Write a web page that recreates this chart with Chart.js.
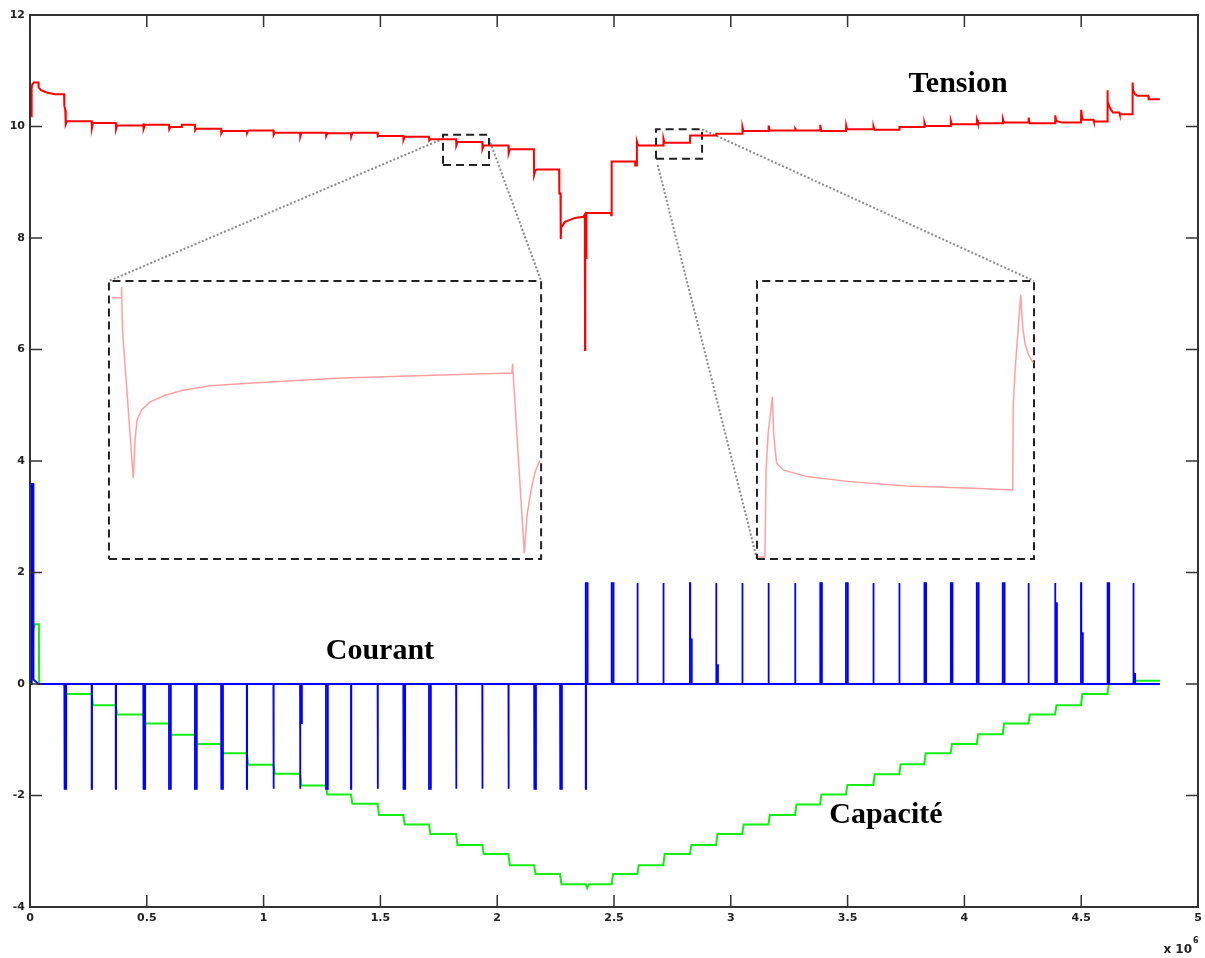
<!DOCTYPE html>
<html>
<head>
<meta charset="utf-8">
<title>Tension / Courant / Capacité</title>
<script src="https://cdn.jsdelivr.net/npm/chart.js@4.4.1/dist/chart.umd.min.js"></script>
<style>
  html, body { margin: 0; padding: 0; background: #ffffff; }
  canvas { display: block; }
</style>
</head>
<body>
<canvas id="chart" width="1205" height="958"></canvas>
<script>
// temps en unités de 10^6 s
const xTickVals = [0, 0.5, 1, 1.5, 2, 2.5, 3, 3.5, 4, 4.5, 5];
const xTickLabels = ['0', '0.5', '1', '1.5', '2', '2.5', '3', '3.5', '4', '4.5', '5'];
const yTickVals = [-4, -2, 0, 2, 4, 6, 8, 10, 12];
const yTickLabels = ['-4', '-2', '0', '2', '4', '6', '8', '10', '12'];

// Tension (V) : points [t, v]
const tensionPts = [
  [0.006, 10.18], [0.007, 10.69], [0.010, 10.76], [0.017, 10.79], [0.036, 10.79], [0.037, 10.70],
  [0.047, 10.65], [0.071, 10.61], [0.107, 10.58], [0.146, 10.58], [0.147, 10.37], [0.151, 10.30],
  [0.153, 10.04], [0.158, 10.095],
  [0.264, 10.095], [0.265, 9.97], [0.270, 10.065],
  [0.367, 10.065], [0.368, 9.95], [0.373, 10.02],
  [0.485, 10.02], [0.486, 10.06], [0.487, 9.96], [0.492, 10.03],
  [0.595, 10.03], [0.596, 9.95], [0.601, 9.99], [0.648, 9.99], [0.650, 10.03],
  [0.706, 10.03], [0.707, 9.93], [0.712, 9.96],
  [0.818, 9.96], [0.819, 9.88], [0.824, 9.92],
  [0.928, 9.92], [0.929, 9.88], [0.934, 9.93],
  [1.042, 9.93], [1.043, 9.85], [1.048, 9.89],
  [1.156, 9.89], [1.157, 9.82], [1.162, 9.89],
  [1.267, 9.89], [1.268, 9.83], [1.273, 9.88],
  [1.374, 9.88], [1.375, 9.82], [1.380, 9.89],
  [1.488, 9.89], [1.489, 9.82], [1.494, 9.83],
  [1.598, 9.83], [1.599, 9.76], [1.604, 9.815],
  [1.708, 9.815], [1.709, 9.75], [1.714, 9.77],
  [1.824, 9.77], [1.825, 9.66], [1.830, 9.72],
  [1.936, 9.72], [1.937, 9.60], [1.942, 9.66],
  [2.048, 9.66], [2.049, 9.52], [2.054, 9.59],
  [2.157, 9.59], [2.158, 9.13], [2.163, 9.21], [2.170, 9.23],
  [2.265, 9.23], [2.266, 8.80], [2.271, 8.80], [2.272, 7.98], [2.274, 8.19], [2.290, 8.29],
  [2.333, 8.36], [2.369, 8.38], [2.375, 8.42],
  [2.376, 5.99], [2.377, 7.64], [2.381, 7.64], [2.382, 8.45],
  [2.486, 8.45], [2.488, 8.41], [2.490, 9.37],
  [2.590, 9.37], [2.591, 9.30], [2.597, 9.30], [2.598, 9.73], [2.603, 9.66],
  [2.711, 9.66], [2.712, 9.78], [2.716, 9.71],
  [2.825, 9.71], [2.826, 9.84],
  [2.937, 9.84], [2.938, 9.87],
  [3.049, 9.87], [3.050, 9.99], [3.054, 9.92],
  [3.161, 9.92], [3.162, 10.02], [3.166, 9.93],
  [3.275, 9.93], [3.276, 9.96], [3.280, 9.93],
  [3.382, 9.93], [3.383, 10.03], [3.387, 9.92],
  [3.493, 9.92], [3.494, 10.02], [3.498, 9.95],
  [3.610, 9.95], [3.611, 10.00], [3.615, 9.94],
  [3.721, 9.94], [3.722, 9.99],
  [3.828, 9.99], [3.829, 10.07], [3.833, 10.01],
  [3.941, 10.01], [3.942, 10.10], [3.946, 10.04],
  [4.053, 10.04], [4.054, 10.12], [4.058, 10.06],
  [4.164, 10.06], [4.165, 10.13], [4.169, 10.07],
  [4.274, 10.07], [4.275, 10.16], [4.279, 10.06],
  [4.388, 10.06], [4.389, 10.20], [4.393, 10.10], [4.420, 10.07],
  [4.499, 10.07], [4.500, 10.30], [4.504, 10.16], [4.508, 10.12], [4.552, 10.12], [4.554, 10.09],
  [4.611, 10.09], [4.612, 10.65], [4.614, 10.45], [4.623, 10.33], [4.636, 10.25], [4.663, 10.25], [4.665, 10.22],
  [4.719, 10.22], [4.720, 10.79], [4.722, 10.65], [4.730, 10.58], [4.740, 10.55], [4.787, 10.55],
  [4.789, 10.49], [4.837, 10.49]
];

// Courant (A)
const courantStart = [[0, 0], [0.006, 0], [0.007, 3.59], [0.014, 3.59], [0.015, 0.08], [0.036, 0]];
const courantEnd = 4.837;
const dischargeAmp = -1.88;
const dischargeT = [0.147, 0.264, 0.367, 0.485, 0.595, 0.706, 0.818, 0.928, 1.042, 1.156, 1.267,
  1.374, 1.488, 1.598, 1.708, 1.824, 1.936, 2.048, 2.158, 2.269, 2.379];
const dischargeTail = [-1.88, 0, 0, -1.88, -1.88, -1.88, -1.88, 0, 0, -0.70, -1.88,
  0, 0, -1.88, -1.88, 0, 0, 0, -1.88, -1.88, 0];
const chargeAmp = 1.81;
const chargeT = [2.379, 2.490, 2.600, 2.711, 2.825, 2.937, 3.049, 3.161, 3.275, 3.382, 3.493,
  3.610, 3.721, 3.828, 3.941, 4.053, 4.164, 4.274, 4.388, 4.499, 4.612, 4.723];
const chargeTail = [1.81, 1.81, 0, 0, 0.80, 0.34, 0, 0, 0, 1.81, 1.81,
  0, 0, 1.81, 1.81, 1.81, 1.81, 0, 1.45, 0.91, 1.81, 0.18];

// Capacité (Ah)
const capStart = [[0.006, 0], [0.007, 0.40], [0.008, 0.87], [0.021, 1.07], [0.038, 1.07], [0.039, 0]];
const capT = [0.147, 0.264, 0.367, 0.485, 0.595, 0.706, 0.818, 0.928, 1.042, 1.156, 1.267,
  1.374, 1.488, 1.598, 1.708, 1.824, 1.936, 2.048, 2.158, 2.269, 2.379, 2.386,
  2.490, 2.600, 2.711, 2.825, 2.937, 3.049, 3.161, 3.275, 3.382, 3.493,
  3.610, 3.721, 3.828, 3.941, 4.053, 4.164, 4.274, 4.388, 4.499, 4.612, 4.723];
const capLevel = [-0.18, -0.38, -0.545, -0.71, -0.91, -1.076, -1.24, -1.45, -1.61, -1.82, -1.98,
  -2.15, -2.35, -2.52, -2.69, -2.89, -3.05, -3.25, -3.41, -3.59, -3.66, -3.59,
  -3.41, -3.25, -3.05, -2.89, -2.69, -2.52, -2.35, -2.16, -1.98, -1.81,
  -1.62, -1.44, -1.24, -1.076, -0.90, -0.71, -0.545, -0.38, -0.18, 0.0, 0.06];
const capEnd = 4.837;

// zooms (même repère que le graphe principal)
const zoomLeftPts = [
  [0.350, 6.93], [0.392, 6.93], [0.392, 7.12], [0.396, 6.35], [0.442, 3.69], [0.450, 4.38],
  [0.458, 4.74], [0.479, 4.92], [0.514, 5.06], [0.578, 5.18], [0.655, 5.27], [0.771, 5.35],
  [0.920, 5.39], [1.156, 5.45], [1.340, 5.49], [1.725, 5.54], [2.063, 5.58], [2.066, 5.75],
  [2.068, 5.58], [2.116, 2.34], [2.128, 3.03], [2.145, 3.48], [2.162, 3.80], [2.183, 4.02]
];
const zoomRightPts = [
  [3.118, 2.28], [3.146, 2.28], [3.151, 3.84], [3.160, 4.50], [3.178, 5.15], [3.184, 4.45],
  [3.196, 3.96], [3.225, 3.84], [3.325, 3.72], [3.510, 3.63], [3.753, 3.55], [4.038, 3.51],
  [4.207, 3.48], [4.209, 5.00], [4.217, 5.63], [4.241, 6.98], [4.250, 6.40], [4.259, 6.11],
  [4.275, 5.90], [4.295, 5.76]
];
// cadres [xmin, xmax, ymin, ymax]
const boxLeftBig = [0.338, 2.188, 2.24, 7.23];
const boxRightBig = [3.112, 4.298, 2.24, 7.23];
const boxLeftSmall = [1.768, 1.965, 9.31, 9.85];
const boxRightSmall = [2.680, 2.877, 9.42, 9.95];
// lignes de renvoi [[x1, y1], [x2, y2]]
const connectors = [
  [[1.768, 9.78], [0.338, 7.23]],
  [[1.965, 9.78], [2.188, 7.23]],
  [[2.877, 9.95], [4.298, 7.23]],
  [[2.687, 9.31], [3.112, 2.24]]
];

const labelText = ['Tension', 'Courant', 'Capacité'];
const labelX = [3.973, 1.498, 3.664];
const labelY = [10.62, 0.448, -2.49];

function toXY(pts) {
  return pts.map(p => ({ x: p[0], y: p[1] }));
}

function buildCourant() {
  const out = toXY(courantStart);
  const pulses = [];
  dischargeT.forEach((t, i) => pulses.push({ t: t, a: dischargeAmp, tail: dischargeTail[i] }));
  chargeT.forEach((t, i) => pulses.push({ t: t, a: chargeAmp, tail: chargeTail[i] }));
  pulses.forEach(p => {
    out.push({ x: p.t, y: 0 });
    out.push({ x: p.t, y: p.a });
    out.push({ x: p.t + 0.0015, y: p.a });
    out.push({ x: p.t + 0.0015, y: p.tail });
    out.push({ x: p.t + 0.008, y: p.tail });
    out.push({ x: p.t + 0.008, y: 0 });
  });
  out.push({ x: courantEnd, y: 0 });
  return out;
}

function buildCapacite() {
  const out = toXY(capStart);
  let prev = 0;
  capT.forEach((t, i) => {
    out.push({ x: t, y: prev });
    out.push({ x: t + 0.006, y: capLevel[i] });
    prev = capLevel[i];
  });
  out.push({ x: capEnd, y: prev });
  return out;
}

function boxPts(b) {
  return [{ x: b[0], y: b[2] }, { x: b[1], y: b[2] }, { x: b[1], y: b[3] }, { x: b[0], y: b[3] }, { x: b[0], y: b[2] }];
}

const dashed = { borderColor: '#222222', borderWidth: 2, borderDash: [8, 5], fill: false, order: 5 };
const dotted = { borderColor: '#8a8a8a', borderWidth: 2, borderDash: [2, 2], fill: false, order: 6 };

const datasets = [
  { label: 'Tension', data: toXY(tensionPts), borderColor: '#ff0000', borderWidth: 2, order: 1 },
  { label: 'Courant', data: buildCourant(), borderColor: '#0000ff', borderWidth: 1.8, order: 2 },
  { label: 'Capacité', data: buildCapacite(), borderColor: '#11ee11', borderWidth: 2, order: 3 },
  { label: 'zoom1', data: toXY(zoomLeftPts), borderColor: '#ffa0a0', borderWidth: 1.5, order: 4 },
  { label: 'zoom2', data: toXY(zoomRightPts), borderColor: '#ffa0a0', borderWidth: 1.5, order: 4 },
  Object.assign({ label: 'box1', data: boxPts(boxLeftBig) }, dashed),
  Object.assign({ label: 'box2', data: boxPts(boxRightBig) }, dashed),
  Object.assign({ label: 'box3', data: boxPts(boxLeftSmall) }, dashed),
  Object.assign({ label: 'box4', data: boxPts(boxRightSmall) }, dashed)
];
connectors.forEach((c, i) => {
  datasets.push(Object.assign({ label: 'lien' + i, data: toXY(c) }, dotted));
});

// cadre, graduations intérieures et textes
const overlay = {
  id: 'overlay',
  afterDatasetsDraw(chart) {
    const { ctx, chartArea: a, scales: { x, y } } = chart;
    ctx.save();
    ctx.strokeStyle = '#333333';
    ctx.lineWidth = 2;
    ctx.strokeRect(a.left, a.top, a.right - a.left, a.bottom - a.top);

    ctx.lineWidth = 1.5;
    ctx.beginPath();
    x.ticks.forEach(t => {
      const px = x.getPixelForValue(t.value);
      ctx.moveTo(px, a.bottom); ctx.lineTo(px, a.bottom - 12);
      ctx.moveTo(px, a.top); ctx.lineTo(px, a.top + 12);
    });
    y.ticks.forEach(t => {
      const py = y.getPixelForValue(t.value);
      ctx.moveTo(a.left, py); ctx.lineTo(a.left + 12, py);
      ctx.moveTo(a.right, py); ctx.lineTo(a.right - 12, py);
    });
    ctx.stroke();

    ctx.fillStyle = '#000000';
    ctx.font = 'bold 30px "Liberation Serif", serif';
    ctx.textAlign = 'center';
    ctx.textBaseline = 'alphabetic';
    labelText.forEach((txt, i) => {
      ctx.fillText(txt, x.getPixelForValue(labelX[i]), y.getPixelForValue(labelY[i]));
    });

    // x 10^6
    ctx.fillStyle = '#222222';
    ctx.font = 'bold 12px "DejaVu Sans", sans-serif';
    ctx.textAlign = 'right';
    ctx.fillText('x 10', a.right - 6, a.bottom + 46);
    ctx.font = 'bold 8px "DejaVu Sans", sans-serif';
    ctx.textAlign = 'left';
    ctx.fillText('6', a.right - 5, a.bottom + 36);
    ctx.restore();
  }
};

const tickFont = { family: '"DejaVu Sans", sans-serif', size: 11, weight: 'bold' };

new Chart(document.getElementById('chart').getContext('2d'), {
  type: 'line',
  data: { datasets: datasets },
  options: {
    responsive: false,
    animation: false,
    devicePixelRatio: 1,
    layout: { padding: { top: 15, right: 7, left: 0, bottom: 0 } },
    elements: { point: { radius: 0 }, line: { tension: 0, fill: false } },
    plugins: { legend: { display: false }, tooltip: { enabled: false } },
    scales: {
      x: {
        type: 'linear',
        min: 0,
        max: 5,
        afterBuildTicks: s => { s.ticks = xTickVals.map(v => ({ value: v })); },
        afterFit: s => { s.height = 51; s.paddingRight = 0; s.paddingLeft = 0; },
        grid: { display: false, drawTicks: false },
        border: { display: false },
        ticks: {
          font: tickFont, color: '#222222', padding: 5, maxRotation: 0, autoSkip: false,
          callback: (v, i) => xTickLabels[i]
        }
      },
      y: {
        type: 'linear',
        min: -4,
        max: 12,
        afterBuildTicks: s => { s.ticks = yTickVals.map(v => ({ value: v })); },
        afterFit: s => { s.width = 30; },
        grid: { display: false, drawTicks: false },
        border: { display: false },
        ticks: {
          font: tickFont, color: '#222222', padding: 5, autoSkip: false,
          callback: (v, i) => yTickLabels[i]
        }
      }
    }
  },
  plugins: [overlay]
});
</script>
</body>
</html>
